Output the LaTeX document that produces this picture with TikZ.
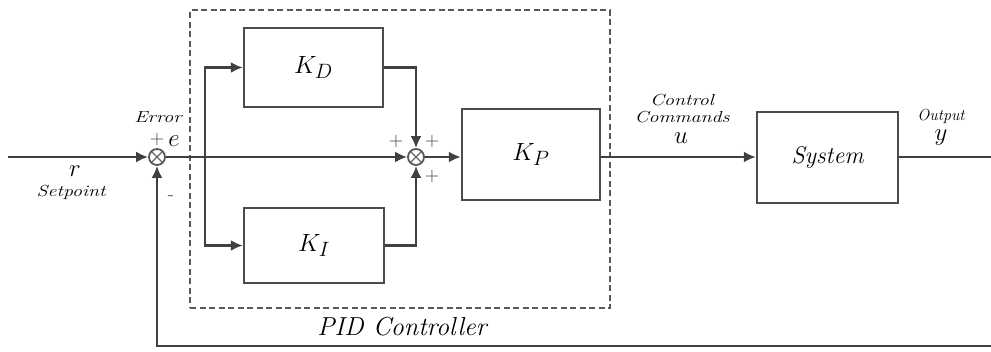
\documentclass[tikz,border=0pt]{standalone}
\usetikzlibrary{arrows.meta}
\newcommand{\widetxt}[1]{\scalebox{1.25}[1]{#1}}
\begin{document}
\begin{tikzpicture}[x=1pt,y=-1pt,
  wire/.style={draw=black!75,line width=2.4pt},
  arr/.style={wire,-{Latex[length=12pt,width=11pt]}},
  blk/.style={draw=black!70,line width=2.4pt,minimum width=#1,inner sep=0pt},
  sumnode/.style={circle,draw=black!65,line width=1.8pt,minimum size=16pt,inner sep=0pt,
    path picture={\draw[black!60,line width=1.4pt] (path picture bounding box.south west) -- (path picture bounding box.north east)
      (path picture bounding box.north west) -- (path picture bounding box.south east);}},
  lbl/.style={font=\itshape\fontsize{16}{16}\selectfont,inner sep=0pt},
  sgn/.style={font=\fontsize{20}{20}\selectfont,inner sep=0pt,text=black!75},
  mth/.style={font=\fontsize{23}{23}\selectfont,inner sep=0pt}
]
\useasboundingbox (0,0) rectangle (991,351);
\fill[white] (0,0) rectangle (991,351);

% dashed controller box
\node[draw=black!65,line width=2pt,dash pattern=on 6pt off 3.5pt,minimum width=420pt,minimum height=298pt,inner sep=0pt] (pid) at (400,159) {};
\node[font=\itshape\fontsize{26}{28}\selectfont,inner sep=0pt] (pidl) at (402,327) {PID Controller};

% sums
\node[sumnode] (s1) at (157,157) {};
\node[sumnode] (s2) at (416,157) {};

% blocks
\node[blk=139pt,minimum height=79pt] (kd) at (313.5,67.5) {\fontsize{29}{29}\selectfont$K_D$};
\node[blk=140pt,minimum height=75pt] (ki) at (314,245.5) {\fontsize{29}{29}\selectfont$K_I$};
\node[blk=138pt,minimum height=91pt] (kp) at (531,154.5) {\fontsize{29}{29}\selectfont$K_P$};
\node[blk=141pt,minimum height=91pt] (sys) at (827.5,157.5) {\fontsize{24}{24}\selectfont\itshape System};

% coordinates
\coordinate (in) at (8,157);
\coordinate (br) at (205,157);
\coordinate (out) at (991,157);
\coordinate (fb) at (991,346);

% connectors
\draw[arr] (in) -- (s1.west);
\draw[arr] (s1.east) -- (s2.west);
\draw[arr] (br) |- (kd.west);
\draw[arr] (br) |- (ki.west);
\draw[arr] (kd.east) -| (s2.north);
\draw[arr] (ki.east) -| (s2.south);
\draw[arr] (s2.east) -- (kp.west |- s2);
\draw[arr] (kp.east |- s2) -- (sys.west |- s2);
\draw[wire] (sys.east |- s2) -- (out);
\draw[arr] (fb) -| (s1.south);

% labels
\node[lbl] (err) at (158,117) {\widetxt{Error}};
\node[sgn] (p1) at (157,140) {+};
\node[mth] (e) at (174,141) {$e$};
\node[mth] (r) at (75,171) {$r$};
\node[lbl] (sp) at (71,192) {\widetxt{Setpoint}};
\node[sgn] (m1) at (171,198) {-};
\node[sgn] (p2) at (396,142) {+};
\node[sgn] (p3) at (432,142) {+};
\node[sgn] (p4) at (432,177) {+};
\node[lbl] (cc1) at (682,100) {\widetxt{Control}};
\node[lbl] (cc2) at (682,117) {\widetxt{Commands}};
\node[mth] (u) at (681,138) {$u$};
\node[lbl] (op) at (941,116) {Output};
\node[mth] (y) at (941,138) {$y$};
\end{tikzpicture}
\end{document}
